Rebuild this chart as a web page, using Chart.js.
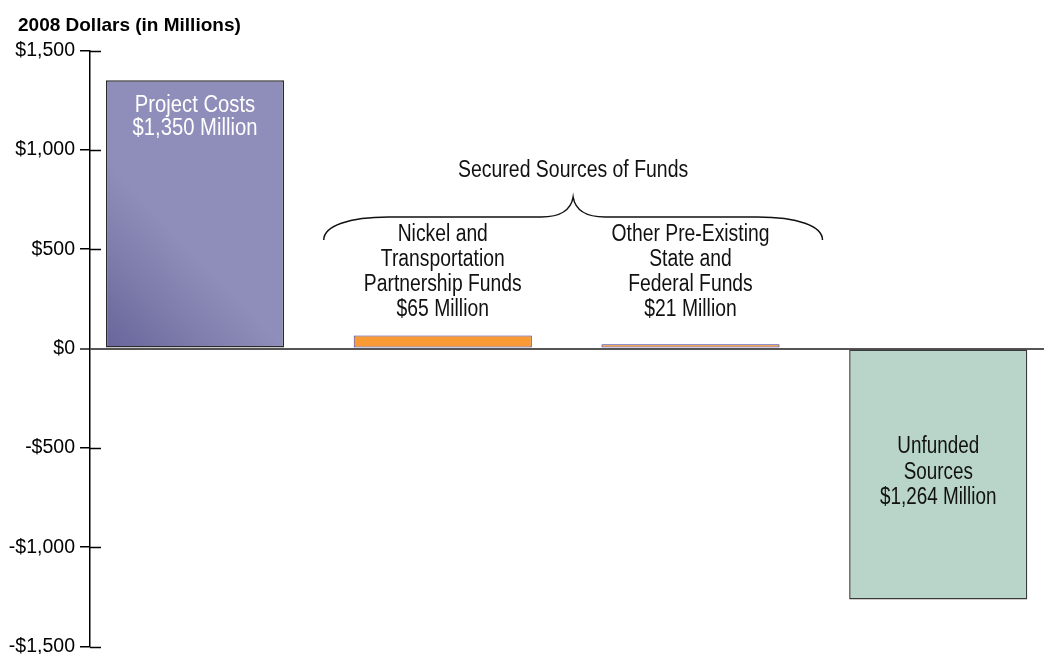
<!DOCTYPE html>
<html><head><meta charset="utf-8">
<script src="https://cdn.jsdelivr.net/npm/chart.js@4"></script>
<style>html,body{margin:0;padding:0;background:#fff}#wrap{width:1044px;height:654px;position:relative}</style>
</head><body><div id="wrap"><canvas id="c" width="1044" height="654"></canvas></div>
<script>
// ---- data ----
const categories = ['Project Costs', 'Nickel and Transportation Partnership Funds', 'Other Pre-Existing State and Federal Funds', 'Unfunded Sources'];
const positions = [0, 1, 2, 3];
const values = [1350, 65, 21, -1264];
const tickValues = [-1500, -1000, -500, 0, 500, 1000, 1500];
const barLabels = [
  ['Project Costs', '$1,350 Million'],
  ['Nickel and', 'Transportation', 'Partnership Funds', '$65 Million'],
  ['Other Pre-Existing', 'State and', 'Federal Funds', '$21 Million'],
  ['Unfunded', 'Sources', '$1,264 Million']
];
const braceLabel = 'Secured Sources of Funds';
const axisTitle = '2008 Dollars (in Millions)';

const FONT = "'Liberation Sans', Arial, sans-serif";
const fmt = v => (v < 0 ? '-$' : '$') + Math.abs(v).toLocaleString('en-US');

const fills = ['#8886b3', '#f99a35', '#f99a35', '#b9d5ca'];
const borders = ['#2a2a2a', '#3b3ba0', '#3b3ba0', '#3a3a3a'];
const borderWidths = [1.5, 1, 1, 1.5];

function barFill(ctx) {
  const i = ctx.dataIndex;
  if (i !== 0) return fills[i];
  const chart = ctx.chart;
  const xs = chart.scales.x, ys = chart.scales.y;
  if (!xs || !ys || !chart.chartArea) return fills[0];
  const cx = xs.getPixelForValue(positions[0]), y0 = ys.getPixelForValue(0);
  if (!isFinite(cx) || !isFinite(y0)) return fills[0];
  const g = chart.ctx.createLinearGradient(cx - 89, y0, cx + 5, y0 - 90);
  g.addColorStop(0, '#67659b');
  g.addColorStop(0.55, '#7f7dab');
  g.addColorStop(1, '#8f8db9');
  return g;
}

function condText(c, t, x, y, sx) {
  c.save();
  c.translate(x, y);
  c.scale(sx, 1);
  c.fillText(t, 0, 0);
  c.restore();
}

const decor = {
  id: 'decor',
  afterDraw(chart) {
    const c = chart.ctx, ys = chart.scales.y;
    const meta = chart.getDatasetMeta(0);
    c.save();
    // title
    c.fillStyle = '#000';
    c.font = "bold 19px " + FONT;
    c.textAlign = 'left'; c.textBaseline = 'alphabetic';
    c.fillText(axisTitle, 18, 31);
    // inner tick stubs
    c.strokeStyle = '#000'; c.lineWidth = 1.5;
    const left = chart.chartArea.left;
    tickValues.forEach(v => {
      if (v === 0) return;
      const y = Math.round(ys.getPixelForValue(v)) + 0.5;
      c.beginPath(); c.moveTo(left, y); c.lineTo(left + 11, y); c.stroke();
    });
    // bar labels
    c.font = '23px ' + FONT;
    c.textAlign = 'center'; c.textBaseline = 'middle';
    meta.data.forEach((el, i) => {
      const lines = barLabels[i];
      if (i === 0) {
        c.fillStyle = '#fff';
        lines.forEach((t, k) => condText(c, t, el.x, el.y + 25 + k * 23, 0.88));
      } else if (i === 3) {
        c.fillStyle = '#111';
        const LH = 25.5;
        const y0 = (el.y + el.base) / 2 - 2 - (lines.length - 1) * LH / 2;
        lines.forEach((t, k) => condText(c, t, el.x, y0 + k * LH, 0.82));
      } else {
        c.fillStyle = '#111';
        const LH = 25;
        const y0 = ys.getPixelForValue(values[1]) - 26 - (lines.length - 1) * LH;
        lines.forEach((t, k) => condText(c, t, el.x, y0 + k * LH, 0.84));
      }
    });
    // brace
    const L = meta.data[1].x - 119, R = meta.data[2].x + 132, P = (L + R) / 2;
    const yE = 240, yH = 217, yP = 197;
    c.strokeStyle = '#111'; c.lineWidth = 1.5;
    c.beginPath();
    c.moveTo(L, yE);
    c.bezierCurveTo(L, yE - 14, L + 25, yH, L + 65, yH);
    c.lineTo(P - 32, yH);
    c.bezierCurveTo(P - 12, yH, P - 2, yH - 8, P, yP);
    c.bezierCurveTo(P + 2, yH - 8, P + 12, yH, P + 32, yH);
    c.lineTo(R - 65, yH);
    c.bezierCurveTo(R - 25, yH, R, yE - 14, R, yE);
    c.stroke();
    c.fillStyle = '#111';
    condText(c, braceLabel, P, 171, 0.845);
    c.restore();
  }
};

new Chart(document.getElementById('c'), {
  type: 'bar',
  data: {
    datasets: [{
      label: '2008 Dollars (in Millions)',
      data: values.map((v, i) => ({ x: positions[i], y: v })),
      backgroundColor: barFill,
      borderColor: borders,
      borderWidth: borderWidths,
      borderSkipped: false,
      barPercentage: 0.719,
      categoryPercentage: 1
    }]
  },
  options: {
    responsive: false,
    animation: false,
    events: [],
    layout: { padding: { left: 0, top: 50.5, right: 0, bottom: 7.5 } },
    plugins: { legend: { display: false }, tooltip: { enabled: false }, title: { display: false } },
    scales: {
      x: {
        type: 'linear', min: -0.424, max: 3.427, display: false, offset: false,
        afterBuildTicks: s => { s.ticks = positions.map(v => ({ value: v })); }
      },
      y: {
        min: -1500, max: 1500,
        afterBuildTicks: s => { s.ticks = tickValues.map(v => ({ value: v })); },
        afterFit: s => { s.width = 90; s.paddingTop = 0; s.paddingBottom = 0; },
        border: { display: true, color: '#000', width: 1.5 },
        grid: {
          drawOnChartArea: true,
          drawTicks: true,
          tickLength: 10,
          color: ctx => (ctx.tick && ctx.tick.value === 0) ? '#555' : 'rgba(0,0,0,0)',
          tickColor: ctx => (ctx.tick && ctx.tick.value === 0) ? '#555' : '#000',
          lineWidth: ctx => (ctx.tick && ctx.tick.value === 0) ? 2 : 1.5
        },
        ticks: {
          padding: 5,
          color: '#000',
          font: { family: FONT, size: 19.5 },
          callback: v => fmt(v)
        }
      }
    }
  },
  plugins: [decor]
});
</script></body></html>
